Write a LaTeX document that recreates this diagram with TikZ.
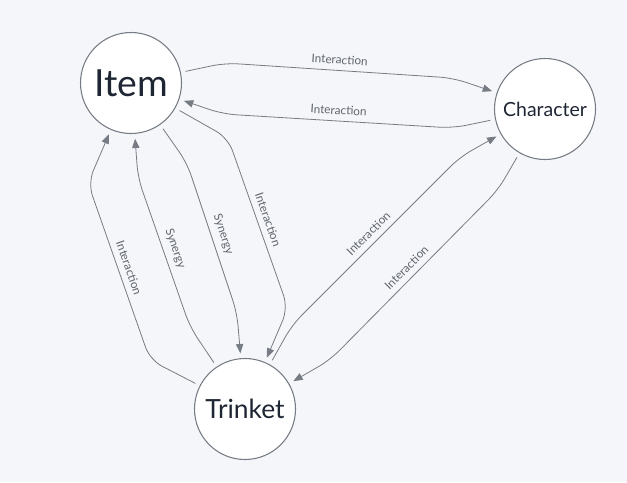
\documentclass[tikz,border=0pt]{standalone}
\usepackage{fontspec}
\setmainfont{Lato}
\usepackage{tikz}
\usetikzlibrary{arrows.meta}
\definecolor{canvas}{HTML}{F5F6FA}
\definecolor{edgegray}{HTML}{777C84}
\definecolor{labelgray}{HTML}{5F646C}
\definecolor{inkdark}{HTML}{1F2633}

\begin{document}
\begin{tikzpicture}[
  x=0.75pt, y=-0.75pt,
  entity/.style={
    circle, draw=edgegray, line width=0.8pt,
    fill=white, text=inkdark,
    minimum size=75.75pt, inner sep=0pt, outer sep=4pt
  },
  arrow/.style={
    -{Triangle[length=7pt, width=5.5pt]},
    line width=0.6pt, draw=edgegray, rounded corners=10pt
  },
  lbl/.style={
    midway, sloped, above=2.5pt, inner sep=2pt,
    font=\fontsize{8.8}{10}\selectfont, text=labelgray
  }
]
\fill[canvas] (0,0) rectangle (627,482);
\useasboundingbox (0,0) rectangle (627,482);

\node[entity, font=\fontsize{28}{32}\selectfont] (item) at (131,83) {Item};
\node[entity, font=\fontsize{14.6}{17}\selectfont] (char) at (545,109) {Character};
\node[entity, font=\fontsize{19.8}{23}\selectfont] (trinket) at (245,409) {Trinket};

% item <-> character
\draw[arrow] (item) -- (225,63) -- node[lbl] {Interaction} (453,78) -- (char);
\draw[arrow] (char) -- (453,128) -- node[lbl] {Interaction} (223,114) -- (item);

% item <-> trinket
\draw[arrow] (item) -- (228,138) -- node[lbl] {Interaction} (288,308) -- (trinket);
\draw[arrow] (trinket) -- (150,360) -- node[lbl] {Interaction} (88,183) -- (item);
\draw[arrow] (trinket) -- (190,327) -- node[lbl] {Synergy} (138,178) -- (item);
\draw[arrow] (item) -- (187,163) -- node[lbl] {Synergy} (237,313) -- (trinket);

% trinket <-> character
\draw[arrow] (trinket) -- (292,325) -- node[lbl] {Interaction} (460,157) -- (char);
\draw[arrow] (char) -- (498,190) -- node[lbl] {Interaction} (330,360) -- (trinket);
\end{tikzpicture}
\end{document}
